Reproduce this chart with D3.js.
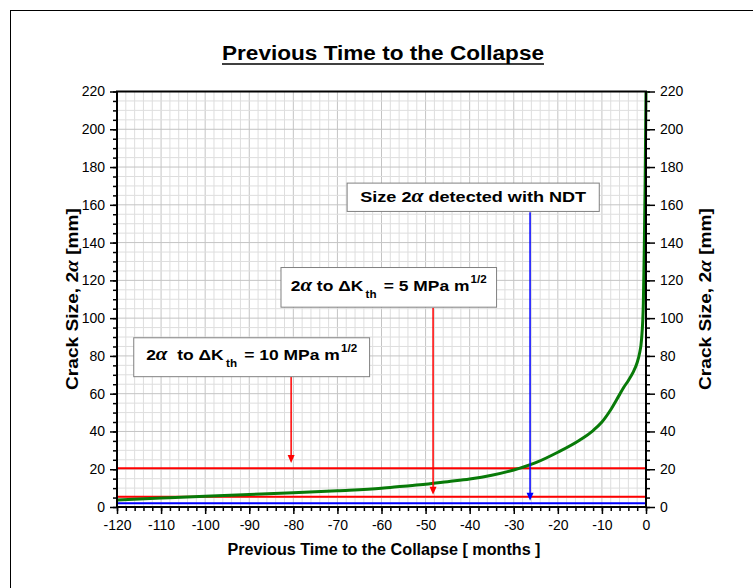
<!DOCTYPE html>
<html>
<head>
<meta charset="utf-8">
<script src="https://cdn.jsdelivr.net/npm/d3@7"></script>
<style>
  body { margin: 0; background: #fff; }
  text { font-family: Arial, "Liberation Sans", sans-serif; }
</style>
</head>
<body>
<div id="chart"></div>
<script>
// crack growth curve
const months = [-120, -110, -100, -90, -80, -70, -60, -55, -50, -45, -40, -35, -30, -25, -20, -15, -12, -10, -8, -6, -5, -4, -3, -2, -1.5, -1, -0.6, -0.4, -0.2, 0]
const crackSize = [3.7, 4.7, 5.7, 6.6, 7.5, 8.6, 9.9, 11.0, 12.0, 13.4, 14.8, 16.8, 19.6, 23.5, 29, 35.5, 40.5, 45, 51.5, 59.5, 63.5, 67, 71, 76.5, 81, 89, 108, 135, 170, 220]

// horizontal reference levels [mm]
const levelValues = [20.5, 5.4, 2]
const levelColors = ['#ff0000', '#ff0000', '#0000ff']

// arrows: x in months, from value (box bottom) to tip value
const arrowX = [-80.5, -48.3, -26.3]
const arrowFrom = [69, 105.5, 156]
const arrowTip = [23.3, 6.5, 3.3]
const arrowColors = ['#ff0000', '#ff0000', '#0000ff']

// boxes in data coords: [x0, x1, yTop, yBottom]
const boxes = [
  [-116.2, -62.7, 89.6, 69],
  [-82.8, -33.9, 126.8, 105.8],
  [-67.8, -10.6, 171.5, 156.5]
]

const xTicks = d3.range(-120, 1, 10)
const yTicks = d3.range(0, 221, 20)

;(function () {
  const margin = { top: 91.5, right: 107, bottom: 81, left: 117 }
  const width = 753 - margin.left - margin.right
  const height = 588 - margin.top - margin.bottom

  const root = d3.select('#chart')
    .append('svg')
    .attr('width', 753)
    .attr('height', 588)

  // outer frame (runs off the bottom / right edge)
  root.append('rect')
    .attr('x', 10.5)
    .attr('y', 10.5)
    .attr('width', 760)
    .attr('height', 600)
    .attr('fill', 'none')
    .attr('stroke', '#000')
    .attr('stroke-width', 1)

  const svg = root.append('g')
    .attr('transform', 'translate(' + margin.left + ',' + margin.top + ')')

  const xPositionScale = d3.scaleLinear().domain([-120, 0]).range([0, width])
  const yPositionScale = d3.scaleLinear().domain([0, 220]).range([height, 0])

  // grid
  const grid = svg.append('g')
  grid.selectAll('.vminor')
    .data(d3.range(-118, 0, 2))
    .enter().append('line')
    .attr('x1', d => xPositionScale(d)).attr('x2', d => xPositionScale(d))
    .attr('y1', 0).attr('y2', height)
    .attr('stroke', d => d % 10 === 0 ? '#c4c4c4' : '#dedede')
    .attr('stroke-width', 1)
  grid.selectAll('.hminor')
    .data(d3.range(5, 220, 5))
    .enter().append('line')
    .attr('x1', 0).attr('x2', width)
    .attr('y1', d => yPositionScale(d)).attr('y2', d => yPositionScale(d))
    .attr('stroke', d => d % 20 === 0 ? '#c4c4c4' : '#dedede')
    .attr('stroke-width', 1)

  // minor ticks
  svg.append('g')
    .attr('transform', 'translate(0,' + height + ')')
    .call(d3.axisBottom(xPositionScale).tickValues(d3.range(-120, 1, 2)).tickSize(4).tickFormat(''))
  svg.append('g')
    .call(d3.axisLeft(yPositionScale).tickValues(d3.range(0, 221, 5)).tickSize(4).tickFormat(''))
  svg.append('g')
    .attr('transform', 'translate(' + width + ',0)')
    .call(d3.axisRight(yPositionScale).tickValues(d3.range(0, 221, 5)).tickSize(4).tickFormat(''))

  // major ticks + labels (plain hyphen for the minus sign)
  const plain = d => String(d)
  svg.append('g')
    .attr('class', 'major')
    .attr('transform', 'translate(0,' + height + ')')
    .call(d3.axisBottom(xPositionScale).tickValues(xTicks).tickSize(7).tickPadding(6).tickFormat(plain))
  svg.append('g')
    .attr('class', 'major')
    .call(d3.axisLeft(yPositionScale).tickValues(yTicks).tickSize(7).tickPadding(5).tickFormat(plain))
  svg.append('g')
    .attr('class', 'major')
    .attr('transform', 'translate(' + width + ',0)')
    .call(d3.axisRight(yPositionScale).tickValues(yTicks).tickSize(9).tickPadding(5).tickFormat(plain))

  svg.selectAll('.domain').remove()
  svg.selectAll('.tick line').attr('stroke', '#000').attr('stroke-width', 1.5)
  svg.selectAll('.major text')
    .attr('font-size', '14px')
    .attr('font-family', 'Arial, "Liberation Sans", sans-serif')
    .attr('fill', '#000')

  // reference levels
  svg.selectAll('.level')
    .data(levelValues)
    .enter().append('line')
    .attr('x1', 0).attr('x2', width)
    .attr('y1', d => yPositionScale(d)).attr('y2', d => yPositionScale(d))
    .attr('stroke', (d, i) => levelColors[i])
    .attr('stroke-width', 2)

  // the curve
  const line = d3.line()
    .x(d => xPositionScale(d[0]))
    .y(d => yPositionScale(d[1]))
    .curve(d3.curveMonotoneX)
  svg.append('path')
    .datum(months.map((m, i) => [m, crackSize[i]]))
    .attr('d', line)
    .attr('fill', 'none')
    .attr('stroke', '#087a08')
    .attr('stroke-width', 3)

  // plot frame
  svg.append('rect')
    .attr('x', 0).attr('y', 0)
    .attr('width', width).attr('height', height)
    .attr('fill', 'none')
    .attr('stroke', '#000')
    .attr('stroke-width', 2)

  // arrows
  arrowX.forEach((ax, i) => {
    const x = xPositionScale(ax)
    const yTip = yPositionScale(arrowTip[i])
    svg.append('line')
      .attr('x1', x).attr('x2', x)
      .attr('y1', yPositionScale(arrowFrom[i]))
      .attr('y2', yTip - 6)
      .attr('stroke', arrowColors[i])
      .attr('stroke-width', 1.5)
    svg.append('path')
      .attr('d', 'M' + (x - 3.5) + ',' + (yTip - 8) + 'L' + (x + 3.5) + ',' + (yTip - 8) + 'L' + x + ',' + yTip + 'Z')
      .attr('fill', arrowColors[i])
  })

  // annotation boxes
  boxes.forEach(b => {
    svg.append('rect')
      .attr('x', xPositionScale(b[0]))
      .attr('y', yPositionScale(b[2]))
      .attr('width', xPositionScale(b[1]) - xPositionScale(b[0]))
      .attr('height', yPositionScale(b[3]) - yPositionScale(b[2]))
      .attr('fill', '#fff')
      .attr('stroke', '#808080')
      .attr('stroke-width', 1)
  })

  function alpha(t, size) {
    t.append('tspan')
      .attr('font-family', '"Liberation Serif", "DejaVu Serif", serif')
      .attr('font-style', 'italic')
      .attr('font-weight', 'bold')
      .attr('font-size', size || '18px')
      .text('α')
  }

  // the source picture is a bit stretched sideways, so texts get a fixed length
  function kLabel(box, gap, value, len) {
    const cx = (xPositionScale(box[0]) + xPositionScale(box[1])) / 2
    const yb = yPositionScale(box[3]) - 16.5
    const t = svg.append('text')
      .attr('x', cx).attr('y', yb)
      .attr('text-anchor', 'middle')
      .attr('font-weight', 'bold')
      .attr('font-size', '15px')
      .attr('textLength', len)
      .attr('lengthAdjust', 'spacingAndGlyphs')
    t.append('tspan').text('2')
    alpha(t)
    t.append('tspan').text(gap + 'to ΔK')
    t.append('tspan').attr('font-size', '10px').attr('dy', 7).attr('dx', 2).text('th')
    t.append('tspan').attr('dy', -7).attr('dx', 2).text(' = ' + value + ' MPa m')
    t.append('tspan').attr('font-size', '10px').attr('dy', -8).attr('dx', 1).text('1/2')
  }
  kLabel(boxes[0], '\u00a0\u00a0', '10', 211)
  kLabel(boxes[1], '\u00a0', '5', 196)

  const t3 = svg.append('text')
    .attr('x', (xPositionScale(boxes[2][0]) + xPositionScale(boxes[2][1])) / 2)
    .attr('y', yPositionScale(boxes[2][3]) - 9.5)
    .attr('text-anchor', 'middle')
    .attr('font-weight', 'bold')
    .attr('font-size', '15px')
    .attr('textLength', 226)
    .attr('lengthAdjust', 'spacingAndGlyphs')
  t3.append('tspan').text('Size 2')
  alpha(t3)
  t3.append('tspan').text(' detected with NDT')

  // title
  root.append('text')
    .attr('x', 383)
    .attr('y', 60)
    .attr('text-anchor', 'middle')
    .attr('font-weight', 'bold')
    .attr('font-size', '20px')
    .attr('textLength', 322)
    .attr('lengthAdjust', 'spacingAndGlyphs')
    .text('Previous Time to the Collapse')
  root.append('line')
    .attr('x1', 383 - 161).attr('x2', 383 + 161)
    .attr('y1', 64).attr('y2', 64)
    .attr('stroke', '#000')
    .attr('stroke-width', 1.5)

  // x axis label
  root.append('text')
    .attr('x', 384)
    .attr('y', 555)
    .attr('text-anchor', 'middle')
    .attr('font-weight', 'bold')
    .attr('font-size', '16px')
    .attr('textLength', 313)
    .attr('lengthAdjust', 'spacingAndGlyphs')
    .text('Previous Time to the Collapse [ months ]')

  // y axis labels, both sides
  ;[78, 711].forEach(px => {
    const t = root.append('text')
      .attr('transform', 'translate(' + px + ',' + 299 + ') rotate(-90)')
      .attr('text-anchor', 'middle')
      .attr('font-weight', 'bold')
      .attr('font-size', '17px')
      .attr('textLength', 182)
      .attr('lengthAdjust', 'spacingAndGlyphs')
    t.append('tspan').text('Crack Size, 2')
    alpha(t, '19px')
    t.append('tspan').text(' [mm]')
  })
})();
</script>
</body>
</html>
